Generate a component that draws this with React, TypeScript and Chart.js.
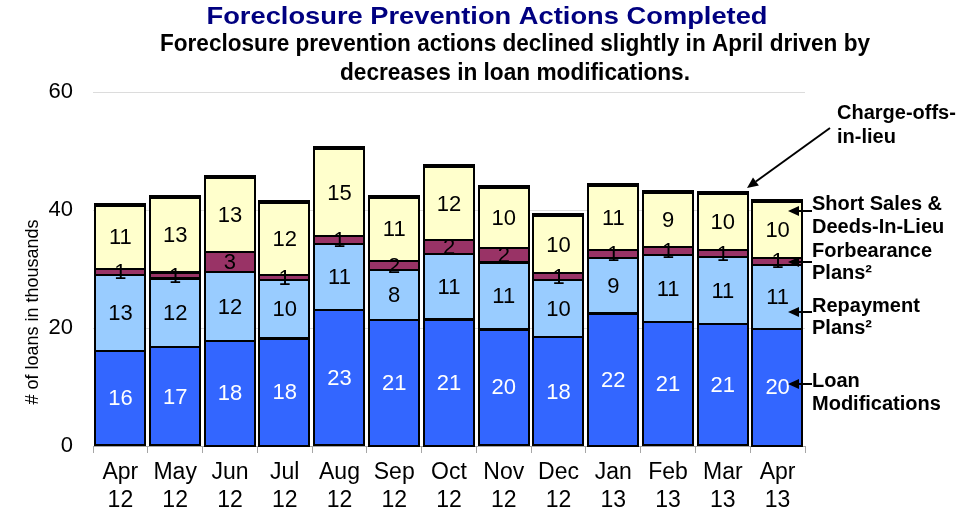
import React, { useEffect, useRef } from "react";
import { Chart, registerables } from "chart.js";

Chart.register(...registerables);

const categories: string[][] = [
  ["Apr", "12"], ["May", "12"], ["Jun", "12"], ["Jul", "12"], ["Aug", "12"], ["Sep", "12"],
  ["Oct", "12"], ["Nov", "12"], ["Dec", "12"], ["Jan", "13"], ["Feb", "13"], ["Mar", "13"], ["Apr", "13"],
];
const loanModifications = [16.1, 16.7, 17.8, 18.2, 23.0, 21.4, 21.4, 19.8, 18.4, 22.4, 21.0, 20.6, 19.9];
const repaymentPlans = [12.9, 11.7, 11.7, 9.9, 11.2, 8.4, 11.1, 11.3, 9.7, 9.4, 11.4, 11.4, 10.8];
const forbearancePlans = [1.0, 1.0, 3.4, 0.9, 1.4, 1.6, 2.4, 2.4, 1.2, 1.4, 1.3, 1.2, 1.2];
const shortSales = [10.8, 12.6, 12.6, 12.2, 14.7, 10.7, 12.4, 10.2, 9.7, 10.9, 9.2, 9.6, 9.5];
const chargeOffs = [0.3, 0.3, 0.3, 0.3, 0.3, 0.3, 0.3, 0.3, 0.3, 0.3, 0.3, 0.3, 0.3];
const yTicks = [0, 20, 40, 60];

const FONT = "'Liberation Sans', Arial, sans-serif";

export default function App() {
  const ref = useRef<HTMLCanvasElement | null>(null);

  useEffect(() => {
    document.body.style.margin = "0";
    const canvas = ref.current;
    if (!canvas) return;

    const labelsPlugin = {
      id: "segLabels",
      afterDatasetsDraw(chart: any) {
        const ctx = chart.ctx;
        ctx.save();
        // outlines for each segment
        ctx.strokeStyle = "#000";
        ctx.lineWidth = 2;
        for (let d = 0; d < chart.data.datasets.length; d++) {
          const meta = chart.getDatasetMeta(d);
          meta.data.forEach((el: any) => {
            const left = el.x - el.width / 2;
            const top = Math.min(el.y, el.base);
            const h = Math.abs(el.base - el.y);
            ctx.strokeRect(Math.round(left) + 0, Math.round(top), Math.round(el.width), Math.round(h));
          });
        }
        ctx.font = `22px ${FONT}`;
        ctx.textAlign = "center";
        ctx.textBaseline = "middle";
        for (let d = 0; d < 4; d++) {
          const meta = chart.getDatasetMeta(d);
          const data = chart.data.datasets[d].data as number[];
          meta.data.forEach((el: any, i: number) => {
            const cy = (el.y + el.base) / 2;
            ctx.fillStyle = d === 0 ? "#ffffff" : "#000000";
            ctx.fillText(String(Math.round(data[i])), el.x, cy + 1);
          });
        }
        ctx.restore();
      },
    };

    const fitText = (ctx: any, text: string, cx: number, cy: number, w: number) => {
      const m = ctx.measureText(text).width;
      const s = w / m;
      ctx.save();
      ctx.translate(cx, cy);
      ctx.scale(s, 1);
      ctx.fillText(text, 0, 0);
      ctx.restore();
    };

    const arrow = (ctx: any, x1: number, y1: number, x2: number, y2: number) => {
      const ang = Math.atan2(y2 - y1, x2 - x1);
      const len = 11;
      const hw = 5;
      const bx = x2 - len * Math.cos(ang);
      const by = y2 - len * Math.sin(ang);
      ctx.beginPath();
      ctx.moveTo(x1, y1);
      ctx.lineTo(bx, by);
      ctx.lineWidth = 2;
      ctx.strokeStyle = "#000";
      ctx.stroke();
      ctx.beginPath();
      ctx.moveTo(x2, y2);
      ctx.lineTo(bx + hw * Math.sin(ang), by - hw * Math.cos(ang));
      ctx.lineTo(bx - hw * Math.sin(ang), by + hw * Math.cos(ang));
      ctx.closePath();
      ctx.fillStyle = "#000";
      ctx.fill();
    };

    const textPlugin = {
      id: "texts",
      beforeDraw(chart: any) {
        const ctx = chart.ctx;
        ctx.save();
        ctx.fillStyle = "#fff";
        ctx.fillRect(0, 0, chart.width, chart.height);
        ctx.restore();
      },
      afterDraw(chart: any) {
        const ctx = chart.ctx;
        ctx.save();
        ctx.textAlign = "center";
        ctx.textBaseline = "middle";
        ctx.fillStyle = "#000080";
        ctx.font = `bold 24px ${FONT}`;
        fitText(ctx, "Foreclosure Prevention Actions Completed", 487, 17, 561);
        ctx.fillStyle = "#000";
        ctx.font = `bold 23px ${FONT}`;
        fitText(ctx, "Foreclosure prevention actions declined slightly in April driven by", 515, 45, 710);
        fitText(ctx, "decreases in loan modifications.", 515, 74, 350);

        // y axis title
        ctx.save();
        ctx.translate(33, 312);
        ctx.rotate(-Math.PI / 2);
        ctx.font = `18px ${FONT}`;
        ctx.fillText("# of loans in thousands", 0, 0);
        ctx.restore();

        // right annotations
        ctx.textAlign = "left";
        ctx.font = `bold 20px ${FONT}`;
        const lines: [string, number, number][] = [
          ["Charge-offs-", 837, 113],
          ["in-lieu", 837, 137],
          ["Short Sales &", 812, 204],
          ["Deeds-In-Lieu", 812, 227],
          ["Forbearance", 812, 251],
          ["Plans\u00B2", 812, 273],
          ["Repayment", 812, 306],
          ["Plans\u00B2", 812, 328],
          ["Loan", 812, 381],
          ["Modifications", 812, 404],
        ];
        lines.forEach(([t, x, y]) => ctx.fillText(t, x, y));
        arrow(ctx, 830, 128, 747, 188);
        arrow(ctx, 812, 211, 788, 211);
        arrow(ctx, 812, 262, 788, 262);
        arrow(ctx, 812, 312, 788, 312);
        arrow(ctx, 812, 384, 788, 384);
        ctx.restore();
      },
    };

    const common = { borderWidth: 0, inflateAmount: 0 };
    const chart = new Chart(canvas, {
      type: "bar",
      data: {
        labels: categories,
        datasets: [
          { label: "Loan Modifications", data: loanModifications, backgroundColor: "#3366FF", ...common },
          { label: "Repayment Plans", data: repaymentPlans, backgroundColor: "#99CCFF", ...common },
          { label: "Forbearance Plans", data: forbearancePlans, backgroundColor: "#993366", ...common },
          { label: "Short Sales & Deeds-In-Lieu", data: shortSales, backgroundColor: "#FFFFCC", ...common },
          { label: "Charge-offs-in-lieu", data: chargeOffs, backgroundColor: "#000000", ...common },
        ],
      },
      options: {
        animation: false,
        responsive: false,
        maintainAspectRatio: false,
        layout: { padding: { top: 92, right: 163, left: 0, bottom: 0 } },
        datasets: { bar: { categoryPercentage: 1, barPercentage: 0.92 } },
        plugins: { legend: { display: false }, tooltip: { enabled: false }, title: { display: false } },
        scales: {
          x: {
            stacked: true,
            grid: { drawOnChartArea: false, drawTicks: true, tickLength: 7, color: "#a6a6a6", offset: true },
            border: { display: true, color: "#a6a6a6", width: 1 },
            ticks: {
              color: "#000",
              font: { family: FONT, size: 23, lineHeight: 1.25 },
              padding: 5,
              maxRotation: 0,
              autoSkip: false,
            },
            afterFit(scale: any) {
              scale.height = 69;
            },
          },
          y: {
            stacked: true,
            min: 0,
            max: 60,
            afterBuildTicks(scale: any) {
              scale.ticks = yTicks.map((v) => ({ value: v }));
            },
            grid: { color: "#dcdcdc", drawTicks: false, lineWidth: 1 },
            border: { display: false },
            ticks: { color: "#000", font: { family: FONT, size: 22 }, padding: 20 },
            afterFit(scale: any) {
              scale.width = 93;
            },
          },
        },
      },
      plugins: [textPlugin, labelsPlugin],
    });
    return () => chart.destroy();
  }, []);

  return (
    <div style={{ width: 968, height: 515 }}>
      <canvas ref={ref} width={968} height={515} style={{ width: 968, height: 515, display: "block" }} />
    </div>
  );
}
